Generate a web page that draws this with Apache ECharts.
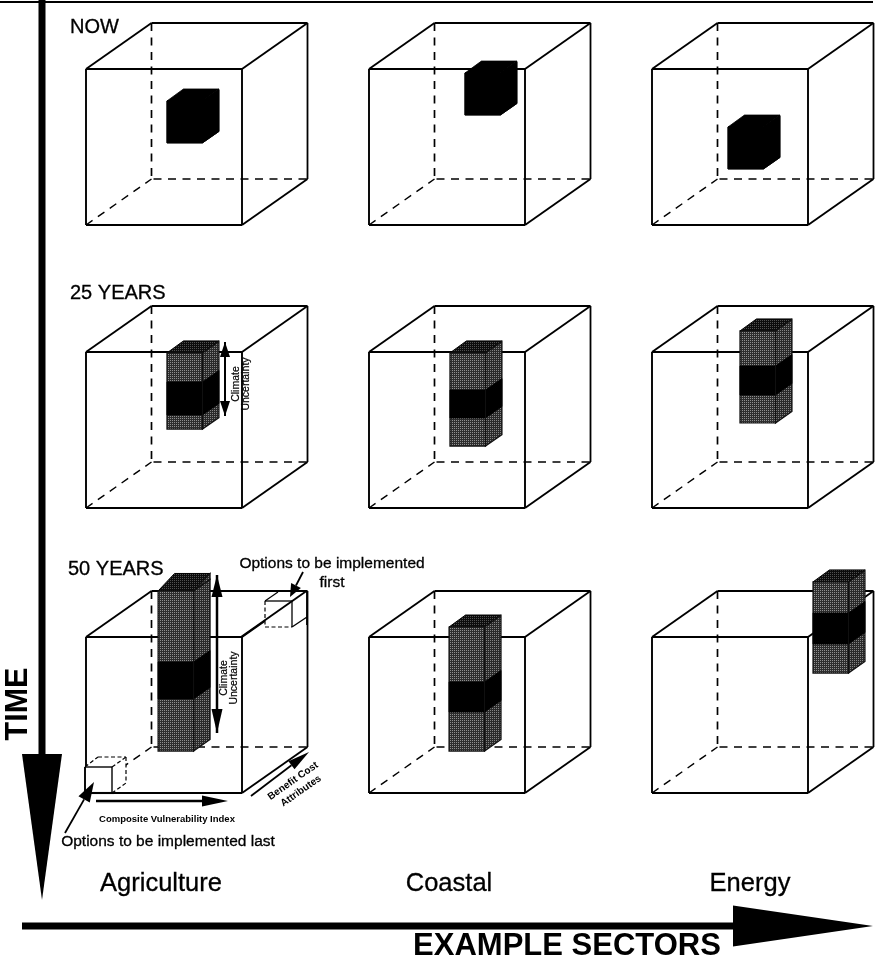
<!DOCTYPE html>
<html><head><meta charset="utf-8">
<style>html,body{margin:0;padding:0;background:#fff}#c{width:880px;height:963px}</style>
<script src="https://cdn.jsdelivr.net/npm/echarts@6/dist/echarts.min.js"></script>
</head><body><div id="c"></div>
<script>
// ---- chart content: column / row categories
const sectors = ['Agriculture', 'Coastal', 'Energy'];
const horizons = ['NOW', '25 YEARS', '50 YEARS'];

// ---- block data, one entry per [horizon][sector], in percent of the cube's edge
// composite vulnerability index (left edge of the block)
const vulnerability = [[51.9, 61.5, 48.7], [51.9, 51.9, 56.4], [46.2, 51.3, 103.2]];
// climate-uncertainty range (upper/lower end of the block)
const uncertaintyHigh = [[79.5, 97.4, 62.8], [99.4, 99.4, 113.5], [129.5, 106.4, 135.3]];
const uncertaintyLow = [[52.6, 70.5, 35.9], [50.6, 39.7, 54.5], [26.9, 26.9, 76.9]];
// central (black) band of the block
const centralHigh = [[79.5, 97.4, 62.8], [80.8, 75.6, 91.0], [84.0, 71.2, 115.4]];
const centralLow = [[52.6, 70.5, 35.9], [59.6, 57.7, 72.4], [60.3, 51.9, 95.5]];

// ---- layout of the page, kept apart from the data
const W = 880, H = 963;
const cubeLeft = [86, 369, 652], cubeBottom = [225, 508, 793];
const edge = 156, depthX = 65.5, depthY = 46;
const blockWidth = 35.5, blockDX = 16.5, blockDY = 11.5;
const FONT = '"Liberation Sans", Arial, sans-serif';

// halftone fill used for the uncertain part of a block
function halftone(dark, light) {
  const c = document.createElement('canvas'); c.width = c.height = 2;
  const g = c.getContext('2d');
  g.fillStyle = dark; g.fillRect(0, 0, 2, 2);
  g.fillStyle = light; g.fillRect(0, 0, 1, 1);
  return { image: c, repeat: 'repeat' };
}
const frontFill = halftone('#2e2e2e', '#909090');
const sideFill = halftone('#2a2a2a', '#848484');
const topFill = halftone('#0c0c0c', '#505050');

const cells = [];
horizons.forEach((_, r) => sectors.forEach((_, s) => cells.push([s, r])));

function poly(api, pts, style) {
  return { type: 'polygon', shape: { points: pts.map(p => api.coord(p)) }, style };
}
function seg(api, a, b, w, dash, color) {
  const A = api.coord(a), B = api.coord(b);
  return { type: 'line', shape: { x1: A[0], y1: A[1], x2: B[0], y2: B[1] },
    style: { stroke: color || '#000', lineWidth: w, lineDash: dash || null, fill: null } };
}
const DASH = [8, 6.5];

function renderCube(params, api) {
  const s = api.value(0), r = api.value(1);
  const x0 = cubeLeft[s], x1 = x0 + edge, yb = cubeBottom[r], yt = yb - edge;
  const bx0 = x0 + depthX, bx1 = x1 + depthX, byt = yt - depthY, byb = yb - depthY;
  return { type: 'group', children: [
    seg(api, [bx0, byt], [bx0, byb], 1.7, DASH),
    seg(api, [bx0 + 2, byb], [bx1, byb], 1.7, DASH),
    seg(api, [x0, yb], [bx0, byb], 1.4, DASH),
    seg(api, [x0, yt], [x1, yt], 2),
    seg(api, [x1, yt], [x1, yb], 1.9),
    seg(api, [x0, yb], [x1, yb], 2.1),
    seg(api, [x0, yt], [x0, yb], 1.9),
    seg(api, [x0, yt], [bx0, byt], 1.9),
    seg(api, [x1, yt], [bx1, byt], 1.9),
    seg(api, [x1, yb], [bx1, byb], 1.9),
    seg(api, [bx0, byt], [bx1, byt], 1.8),
    seg(api, [bx1, byt], [bx1, byb], 1.8)
  ] };
}

function renderBlock(params, api) {
  const s = api.value(0), r = api.value(1);
  const base = cubeBottom[r];
  const left = cubeLeft[s] + vulnerability[r][s] * edge / 100;
  const right = left + blockWidth;
  const Y = v => base - v * edge / 100;
  const top = Y(uncertaintyHigh[r][s]), bot = Y(uncertaintyLow[r][s]);
  const bandT = Y(centralHigh[r][s]), bandB = Y(centralLow[r][s]);
  const topDY = (r === 2 && s === 0) ? 17.5 : blockDY + 0.5;
  const dx = blockDX;
  const black = { fill: '#000', stroke: '#000', lineWidth: 0.8 };
  const f = { fill: frontFill, stroke: '#111', lineWidth: 1.2 };
  const fs = { fill: sideFill, stroke: '#111', lineWidth: 1.2 };
  const ft = { fill: topFill, stroke: '#000', lineWidth: 1 };
  const solid = uncertaintyHigh[r][s] === centralHigh[r][s];
  const side = (a, b, st) => poly(api, [[right, a], [right + dx, a - blockDY], [right + dx, b - blockDY], [right, b]], st);
  const front = (a, b, st) => poly(api, [[left, a], [right, a], [right, b], [left, b]], st);
  const children = [
    poly(api, [[left, top], [left + dx, top - topDY], [right + dx, top - topDY], [right, top]], solid ? black : ft),
    side(top, bot, solid ? black : fs),
    front(top, bot, solid ? black : f),
    side(bandT, bandB, black),
    front(bandT, bandB, black)
  ];
  if (!solid) children.push(seg(api, [right, top], [right, bot], 1, null, '#111'));
  // the back-top corner of a side face rises to the top face
  if (topDY > blockDY + 1) children.splice(1, 0, poly(api, [[right, top], [right + dx, top - topDY], [right + dx, top - blockDY]], fs));
  return { type: 'group', children };
}

// ---- annotation arrows: from, to, shaft width, head length, head full width
const arrows = [
  [[42, 0], [42, 900], 7, 146, 40],
  [[22, 926], [873, 926], 7, 140, 41],
  [[225, 342], [225, 416], 2, 0, 0],
  [[217, 575], [217, 733], 2.5, 0, 0],
  [[96, 801], [228, 801], 2.5, 26, 11],
  [[251, 796], [309, 752], 1.8, 22, 10],
  [[303, 572], [290, 597], 1.8, 13, 11],
  [[65, 833], [94, 782], 1.8, 20, 13]
];
// double heads of the uncertainty arrows: tip, length, full width, direction
const uncertaintyHeads = [
  [225, 342, 15, 10, 1], [225, 416, 15, 10, -1],
  [217, 575, 22, 11, 1], [217, 733, 24, 11, -1]
];
function renderArrow(params, api) {
  const a = arrows[api.value(0)];
  const [A, B, w, hl, hw] = a;
  const dx = B[0] - A[0], dy = B[1] - A[1], L = Math.hypot(dx, dy), ux = dx / L, uy = dy / L;
  const nx = -uy, ny = ux;
  const children = [];
  const end = hl ? [B[0] - ux * hl, B[1] - uy * hl] : B;
  children.push(seg(api, A, end, w));
  if (hl) children.push(poly(api, [
    [end[0] + nx * hw / 2, end[1] + ny * hw / 2], B, [end[0] - nx * hw / 2, end[1] - ny * hw / 2]
  ], { fill: '#000' }));
  return { type: 'group', children };
}
function renderHead(params, api) {
  const [x, y, l, w, d] = uncertaintyHeads[api.value(0)];
  return poly(api, [[x, y], [x - w / 2, y + d * l], [x + w / 2, y + d * l]], { fill: '#000' });
}

// ---- the two small "option" boxes
function renderBoxes(params, api) {
  const d = [4, 2.5];
  return { type: 'group', children: [
    poly(api, [[265, 601], [278, 592], [306, 592], [306, 617], [292, 627], [265, 627]], { fill: '#fff' }),
    seg(api, [265, 601], [265, 627], 1.2, d), seg(api, [265, 627], [292, 627], 1.2, d),
    seg(api, [265, 601], [278, 592], 1.2), seg(api, [265, 601], [292, 601], 1.3),
    seg(api, [292, 601], [292, 627], 1.3), seg(api, [292, 627], [307, 617], 1.3),
    seg(api, [241, 637], [306.5, 591], 1.9), seg(api, [278, 591], [307, 591], 1.8),
    seg(api, [307, 591], [307, 625], 1.8),
    poly(api, [[85, 767], [98, 757], [126, 757], [126, 783], [112, 793], [85, 793]], { fill: '#fff' }),
    seg(api, [85, 767], [98, 757], 1.2, d), seg(api, [98, 757], [126, 757], 1.2, d),
    seg(api, [112, 767], [126, 757], 1.2, d), seg(api, [126, 757], [126, 783], 1.2, d),
    seg(api, [112, 793], [126, 783], 1.2, d),
    seg(api, [85, 767], [112, 767], 1.4), seg(api, [112, 767], [112, 793], 1.4),
    seg(api, [85, 767], [85, 793], 1.9), seg(api, [85, 793], [114, 793], 2.1)
  ] };
}

// ---- labels: text, x, y, size, weight, align, rotation in degrees
const labels = [
  [horizons[0], 70, 27, 20, 'normal', 'left', 0],
  [horizons[1], 70, 293, 20, 'normal', 'left', 0],
  [horizons[2], 68, 569, 20, 'normal', 'left', 0],
  [sectors[0], 161, 884, 25.5, 'normal', 'center', 0],
  [sectors[1], 449, 884, 25.5, 'normal', 'center', 0],
  [sectors[2], 750, 884, 25.5, 'normal', 'center', 0],
  ['EXAMPLE SECTORS', 567, 946, 31, 'bold', 'center', 0],
  ['TIME', 19, 704, 30.5, 'bold', 'center', 90],
  ['Options to be implemented', 332, 564, 15.5, 'normal', 'center', 0],
  ['first', 332, 583, 15.5, 'normal', 'center', 0],
  ['Options to be implemented last', 168, 842, 15.5, 'normal', 'center', 0],
  ['Composite Vulnerability Index', 167, 819, 9.5, 'bold', 'center', 0],
  ['Benefit Cost', 293, 781, 10, 'bold', 'center', 35],
  ['Attributes', 301, 791, 10, 'bold', 'center', 35],
  ['Climate', 236, 384, 10.5, 'normal', 'center', 90],
  ['Uncertainty', 246, 384, 10.5, 'normal', 'center', 90],
  ['Climate', 224, 678, 10.5, 'normal', 'center', 90],
  ['Uncertainty', 234, 678, 10.5, 'normal', 'center', 90]
];
function renderLabel(params, api) {
  const [text, x, y, size, weight, align, rot] = labels[api.value(0)];
  const P = api.coord([x, y]);
  return { type: 'text', x: P[0], y: P[1], rotation: rot * Math.PI / 180,
    style: { text, fill: '#000', stroke: '#000', lineWidth: weight === 'bold' ? 0 : (size < 12 ? 0.2 : 0.3), align, verticalAlign: 'middle',
      font: weight + ' ' + size + 'px ' + FONT } };
}

function custom(name, data, renderItem) {
  return { type: 'custom', name, data, renderItem, coordinateSystem: 'cartesian2d', clip: false, silent: true,
    encode: { x: [], y: [] } };
}
const idx = a => a.map((_, i) => [i]);

const chart = echarts.init(document.getElementById('c'), null, { renderer: 'canvas' });
chart.setOption({
  animation: false,
  backgroundColor: '#fff',
  grid: { left: 0, right: 0, top: 0, bottom: 0 },
  xAxis: { type: 'value', min: 0, max: W, show: false },
  yAxis: { type: 'value', min: 0, max: H, inverse: true, show: false },
  series: [
    custom('cubes', cells, renderCube),
    custom('boxes', [[0]], renderBoxes),
    custom('blocks', cells, renderBlock),
    custom('arrows', idx(arrows), renderArrow),
    custom('heads', idx(uncertaintyHeads), renderHead),
    custom('rule', [[0]], (p, api) => seg(api, [0, 2], [873, 2], 2)),
    custom('labels', idx(labels), renderLabel)
  ]
});
</script></body></html>
